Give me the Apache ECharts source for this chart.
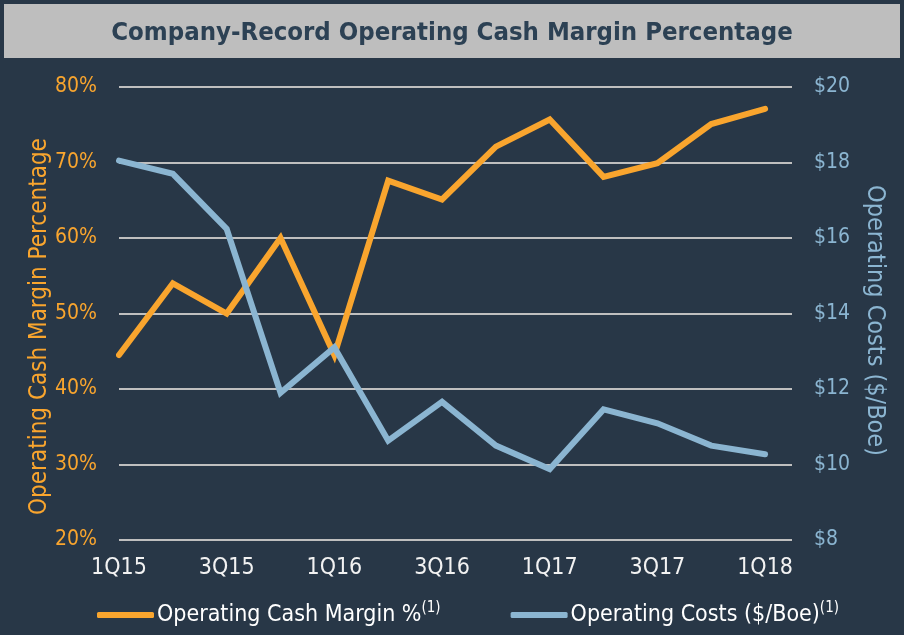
<!DOCTYPE html>
<html>
<head>
<meta charset="utf-8">
<script src="https://cdn.jsdelivr.net/npm/echarts@6/dist/echarts.min.js"></script>
<style>
  html, body { margin: 0; padding: 0; background: #283747; }
  #main { width: 904px; height: 635px; }
</style>
</head>
<body>
<div id="main"></div>
<script>
const quarters = ['1Q15', '2Q15', '3Q15', '4Q15', '1Q16', '2Q16', '3Q16', '4Q16', '1Q17', '2Q17', '3Q17', '4Q17', '1Q18'];
const cashMargin = [44.5, 54.0, 50.0, 60.0, 44.5, 67.6, 65.1, 72.1, 75.7, 68.1, 69.9, 75.1, 77.1];
const opCosts = [18.05, 17.7, 16.24, 11.9, 13.1, 10.63, 11.66, 10.5, 9.88, 11.46, 11.09, 10.5, 10.27];

const ORANGE = '#F9A52E';
const BLUE = '#8BB5D1';
const BG = '#283747';
const FONT = '"DejaVu Sans Condensed", sans-serif';

const chart = echarts.init(document.getElementById('main'));

const option = {
    backgroundColor: BG,
    animation: false,
    graphic: [
        { type: 'rect', shape: { x: 4, y: 4, width: 896, height: 54 }, style: { fill: '#BEBEBE' }, z: -1 }
    ],
    title: {
        text: 'Company-Record Operating Cash Margin Percentage',
        left: 'center', top: 15,
        textStyle: { color: '#2C4154', fontSize: 25.5, fontWeight: 'bold', fontFamily: FONT }
    },
    legend: {
        left: 92, top: 596, itemGap: 70, itemWidth: 57, itemHeight: 6,
        icon: 'roundRect',
        textStyle: {
            color: '#FFFFFF', fontSize: 23, fontFamily: FONT, lineHeight: 28, padding: [0, 0, 0, -2],
            rich: { sup: { fontSize: 15, verticalAlign: 'top', lineHeight: 28, color: '#FFFFFF', fontFamily: FONT } }
        },
        formatter: name => name + '{sup|(1)}',
        data: ['Operating Cash Margin %', 'Operating Costs ($/Boe)']
    },
    grid: { left: 119, right: 112, top: 87, bottom: 95 },
    xAxis: {
        type: 'value', min: 0, max: 12.5, interval: 2,
        axisLine: { show: false }, axisTick: { show: false }, splitLine: { show: false },
        axisLabel: {
            color: '#F2F2F2', fontSize: 23, fontFamily: FONT, margin: 17, showMaxLabel: false,
            formatter: v => (Number.isInteger(v) ? quarters[v] || '' : '')
        }
    },
    yAxis: [
        {
            type: 'value', min: 20, max: 80, interval: 10, position: 'left',
            name: 'Operating Cash Margin Percentage', nameLocation: 'middle', nameGap: 67, nameRotate: 90,
            nameMoveOverlap: false,
            nameTextStyle: { color: ORANGE, fontSize: 24, fontFamily: FONT, padding: [0, 0, 0, -26] },
            axisLine: { show: false }, axisTick: { show: false },
            axisLabel: { color: ORANGE, fontSize: 21, fontFamily: FONT, margin: 22, formatter: '{value}%' },
            splitLine: { lineStyle: { color: '#BFBFBF', width: 2 } }
        },
        {
            type: 'value', min: 8, max: 20, interval: 2, position: 'right',
            name: 'Operating Costs ($/Boe)', nameLocation: 'middle', nameGap: 70, nameRotate: -90,
            nameMoveOverlap: false,
            nameTextStyle: { color: BLUE, fontSize: 25, fontFamily: FONT, padding: [0, 0, 0, 14] },
            axisLine: { show: false }, axisTick: { show: false },
            axisLabel: { color: BLUE, fontSize: 21, fontFamily: FONT, margin: 22, formatter: '${value}' },
            splitLine: { show: false }
        }
    ],
    series: [
        {
            name: 'Operating Cash Margin %', type: 'line', yAxisIndex: 0, symbol: 'none',
            itemStyle: { color: ORANGE }, lineStyle: { color: ORANGE, width: 6, cap: 'round', join: 'miter' },
            data: cashMargin.map((v, i) => [i, v]), z: 3
        },
        {
            name: 'Operating Costs ($/Boe)', type: 'line', yAxisIndex: 1, symbol: 'none',
            itemStyle: { color: BLUE }, lineStyle: { color: BLUE, width: 6, cap: 'round', join: 'miter' },
            data: opCosts.map((v, i) => [i, v]), z: 4
        }
    ]
};

chart.setOption(option);
</script>
</body>
</html>
